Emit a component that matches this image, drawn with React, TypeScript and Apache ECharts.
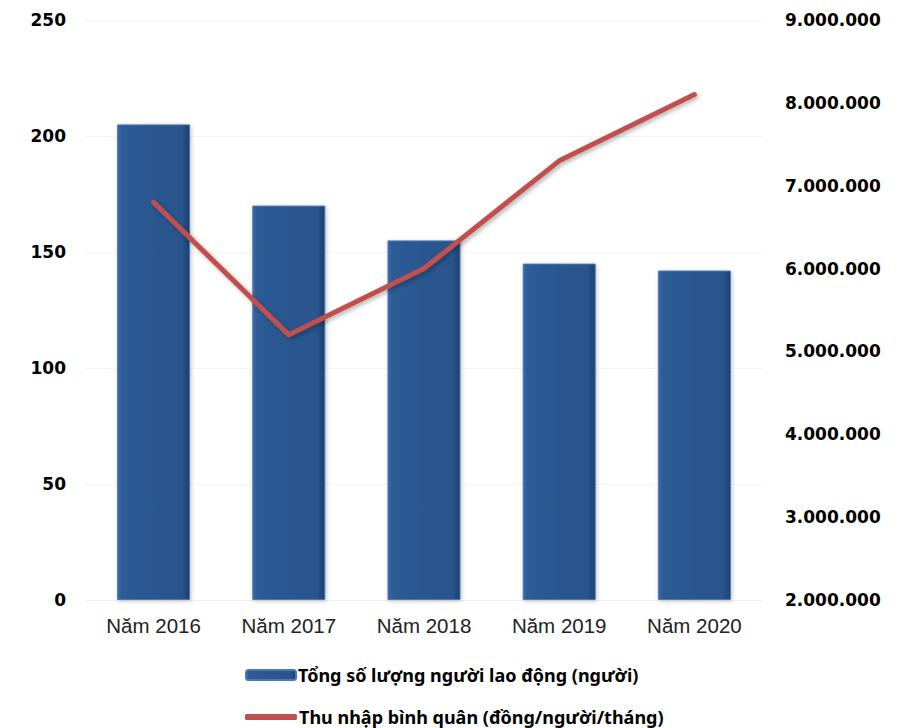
import React, { useEffect, useRef } from "react";
import * as echarts from "echarts";

const categories = ["Năm 2016", "Năm 2017", "Năm 2018", "Năm 2019", "Năm 2020"];
const workers = [205, 170, 155, 145, 142];
const income = [6800000, 5200000, 6000000, 7300000, 8100000];
const barName = "Tổng số lượng người lao động (người)";
const lineName = "Thu nhập bình quân (đồng/người/tháng)";

const fmt = (v: number) => String(Math.round(v)).replace(/\B(?=(\d{3})+(?!\d))/g, ".");

export default function App() {
  const ref = useRef<HTMLDivElement>(null);
  useEffect(() => {
    const chart = echarts.init(ref.current!, null, { renderer: "svg" });
    const axisFont = { fontFamily: "'DejaVu Sans', sans-serif", fontWeight: "bold" as const, fontSize: 17, color: "#000" };
    const legendFont = { fontFamily: "'Noto Sans', sans-serif", fontWeight: "bold" as const, fontSize: 18, color: "#000" };
    chart.setOption({
      animation: false,
      backgroundColor: "#fff",
      grid: { left: 86, right: 138, top: 20, bottom: 128, containLabel: false },
      legend: [
        {
          left: 245,
          top: 666,
          itemGap: 0,
          itemWidth: 50,
          itemHeight: 10,
          padding: 0,
          textStyle: { ...legendFont, padding: [0, 0, 0, -3] },
          data: [{ name: barName, icon: "roundRect" }],
        },
        {
          left: 245,
          top: 708,
          itemWidth: 52,
          itemHeight: 6,
          padding: 0,
          textStyle: { ...legendFont, padding: [0, 0, 0, -3] },
          data: [{ name: lineName, icon: "roundRect", itemStyle: { color: "#c0504d" } }],
        },
      ],
      xAxis: {
        type: "category",
        data: categories,
        axisLine: { show: true, lineStyle: { color: "#eeeeee" } },
        axisTick: { show: false },
        axisLabel: { fontFamily: "'Liberation Sans', Arial, sans-serif", fontSize: 20.5, color: "#222", margin: 15 },
      },
      yAxis: [
        {
          type: "value",
          min: 0,
          max: 250,
          interval: 50,
          axisLine: { show: false },
          axisTick: { show: false },
          splitLine: { show: true, lineStyle: { color: "#f4f4f4" } },
          axisLabel: { ...axisFont, margin: 20 },
        },
        {
          type: "value",
          min: 2000000,
          max: 9000000,
          interval: 1000000,
          axisLine: { show: false },
          axisTick: { show: false },
          splitLine: { show: false },
          axisLabel: { ...axisFont, margin: 23, formatter: (v: number) => fmt(v) },
        },
      ],
      series: [
        {
          name: barName,
          type: "bar",
          data: workers,
          barWidth: "54%",
          itemStyle: {
            color: new echarts.graphic.LinearGradient(0, 0, 1, 0, [
              { offset: 0, color: "#3a6aa6" },
              { offset: 0.06, color: "#2d5b95" },
              { offset: 0.9, color: "#29548c" },
              { offset: 1, color: "#1c3f6c" },
            ]),
            borderColor: "#4a7ab5",
            borderWidth: 1,
            shadowColor: "rgba(0,0,0,0.25)",
            shadowBlur: 4,
            shadowOffsetX: 1,
            shadowOffsetY: 1,
          },
        },
        {
          name: lineName,
          type: "line",
          yAxisIndex: 1,
          data: income,
          symbol: "none",
          lineStyle: {
            color: "#c0504d",
            width: 5,
            cap: "round",
            join: "round",
            shadowColor: "rgba(0,0,0,0.3)",
            shadowBlur: 4,
            shadowOffsetX: 2,
            shadowOffsetY: 2,
          },
          itemStyle: { color: "#c0504d" },
        },
      ],
    });
    return () => chart.dispose();
  }, []);
  return <div ref={ref} style={{ width: 900, height: 728, position: "absolute", left: 0, top: 0 }} />;
}
